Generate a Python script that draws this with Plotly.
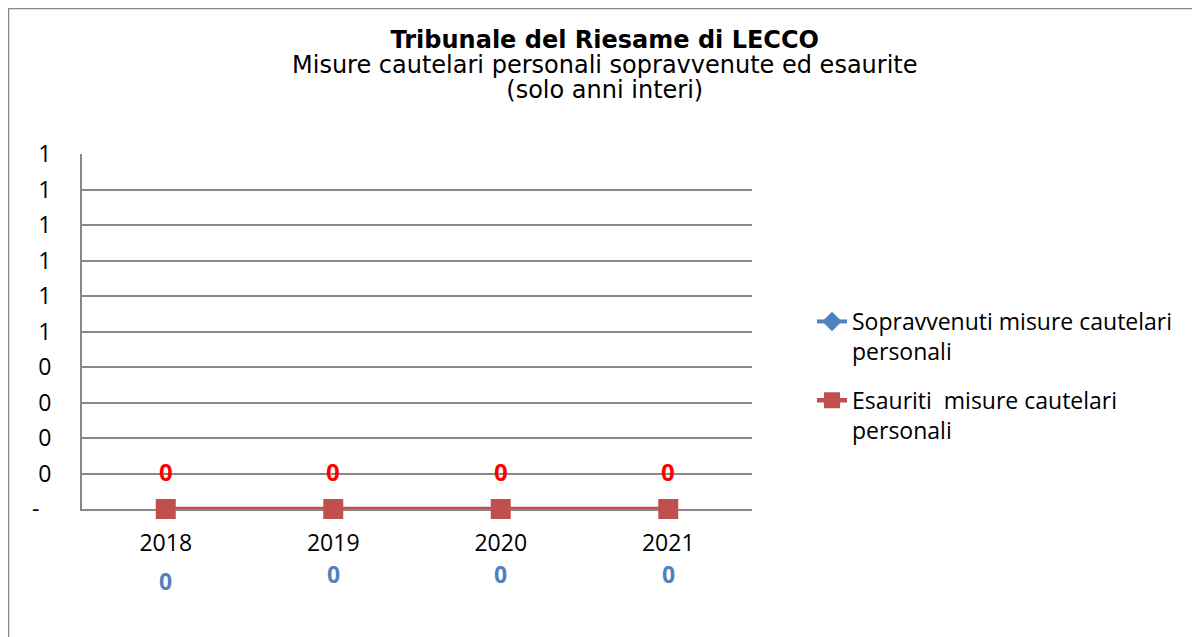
import plotly.graph_objects as go

years = ["2018", "2019", "2020", "2021"]
sopravvenuti = [0, 0, 0, 0]
esauriti = [0, 0, 0, 0]
y_tickvals = [0, 0.1, 0.2, 0.3, 0.4, 0.5, 0.6, 0.7, 0.8, 0.9, 1.0]
y_ticktext = ["-\u00a0\u00a0", "0", "0", "0", "0", "1", "1", "1", "1", "1", "1"]
blue_label_shift = [-72, -65, -65, -65]
title_lines = [
    "<b>Tribunale del Riesame di LECCO</b>",
    "Misure cautelari personali sopravvenute ed esaurite",
    "(solo anni interi)",
]

BLUE = "#4F81BD"
RED = "#C0504D"
GRID = "#888888"
FONT = "Open Sans"

# figure geometry (page has 8px body offset)
L, T, W, H = 74, 146, 670, 355

fig = go.Figure()
fig.add_trace(go.Scatter(
    x=years, y=sopravvenuti, mode="lines+markers",
    name="Sopravvenuti misure cautelari<br>personali",
    line=dict(color=BLUE, width=4),
    marker=dict(symbol="diamond", size=15, color=BLUE),
    cliponaxis=False, legendgroup="a",
))
fig.add_trace(go.Scatter(
    x=years, y=esauriti, mode="lines+markers",
    name="Esauriti  misure cautelari<br>personali",
    line=dict(color=RED, width=4.5),
    marker=dict(symbol="square", size=20, color=RED),
    cliponaxis=False, legendgroup="b",
))

for i, v in enumerate(esauriti):
    fig.add_annotation(x=i, y=v, text=f"<b>{v}</b>", showarrow=False,
                       yshift=38, font=dict(family=FONT, size=24, color="#FF0000"))
for i, (v, s) in enumerate(zip(sopravvenuti, blue_label_shift)):
    fig.add_annotation(x=i, y=v, text=f"<b>{v}</b>", showarrow=False,
                       yshift=s, font=dict(family=FONT, size=23, color=BLUE))

# title: one text block, 24px glyphs on a 25px line pitch
title_text = "<br>".join(f"<span style='font-size:24px'>{t}</span>" for t in title_lines)
fig.add_annotation(xref="paper", yref="paper",
                   x=(597 - L) / W, y=1 + (T - 57) / H,
                   xanchor="center", yanchor="middle", showarrow=False,
                   text=title_text, font=dict(family="DejaVu Sans", size=19.2, color="black"))

# outer chart border
fig.add_shape(type="rect", xref="paper", yref="paper",
              x0=(0.5 - L) / W, x1=3, y0=-2, y1=1 + (T - 0.5) / H,
              line=dict(color="#888888", width=1.5), layer="below")

fig.update_layout(
    width=1200, height=637,
    margin=dict(l=L, r=1200 - L - W, t=T, b=637 - T - H),
    paper_bgcolor="white", plot_bgcolor="white",
    font=dict(family=FONT, size=23, color="black"),
    showlegend=True,
    legend=dict(
        x=(804 - L) / W, xanchor="left",
        y=1 - (292 - T) / H, yanchor="top",
        font=dict(family=FONT, size=23, color="black"),
        valign="top", tracegroupgap=16, traceorder="grouped",
        bgcolor="rgba(0,0,0,0)",
    ),
    xaxis=dict(
        type="category", showgrid=False, showline=True, linecolor=GRID, linewidth=2,
        ticks="", ticklabelstandoff=12, tickfont=dict(family=FONT, size=23),
        range=[-0.5, 3.5], fixedrange=True, layer="below traces",
    ),
    yaxis=dict(
        range=[0, 1], tickvals=y_tickvals, ticktext=y_ticktext,
        showgrid=True, gridcolor=GRID, gridwidth=2,
        showline=True, linecolor=GRID, linewidth=2,
        zeroline=False, ticks="", ticklabelstandoff=24,
        tickfont=dict(family=FONT, size=23), fixedrange=True, layer="below traces",
    ),
)

fig.write_html("out.html")
